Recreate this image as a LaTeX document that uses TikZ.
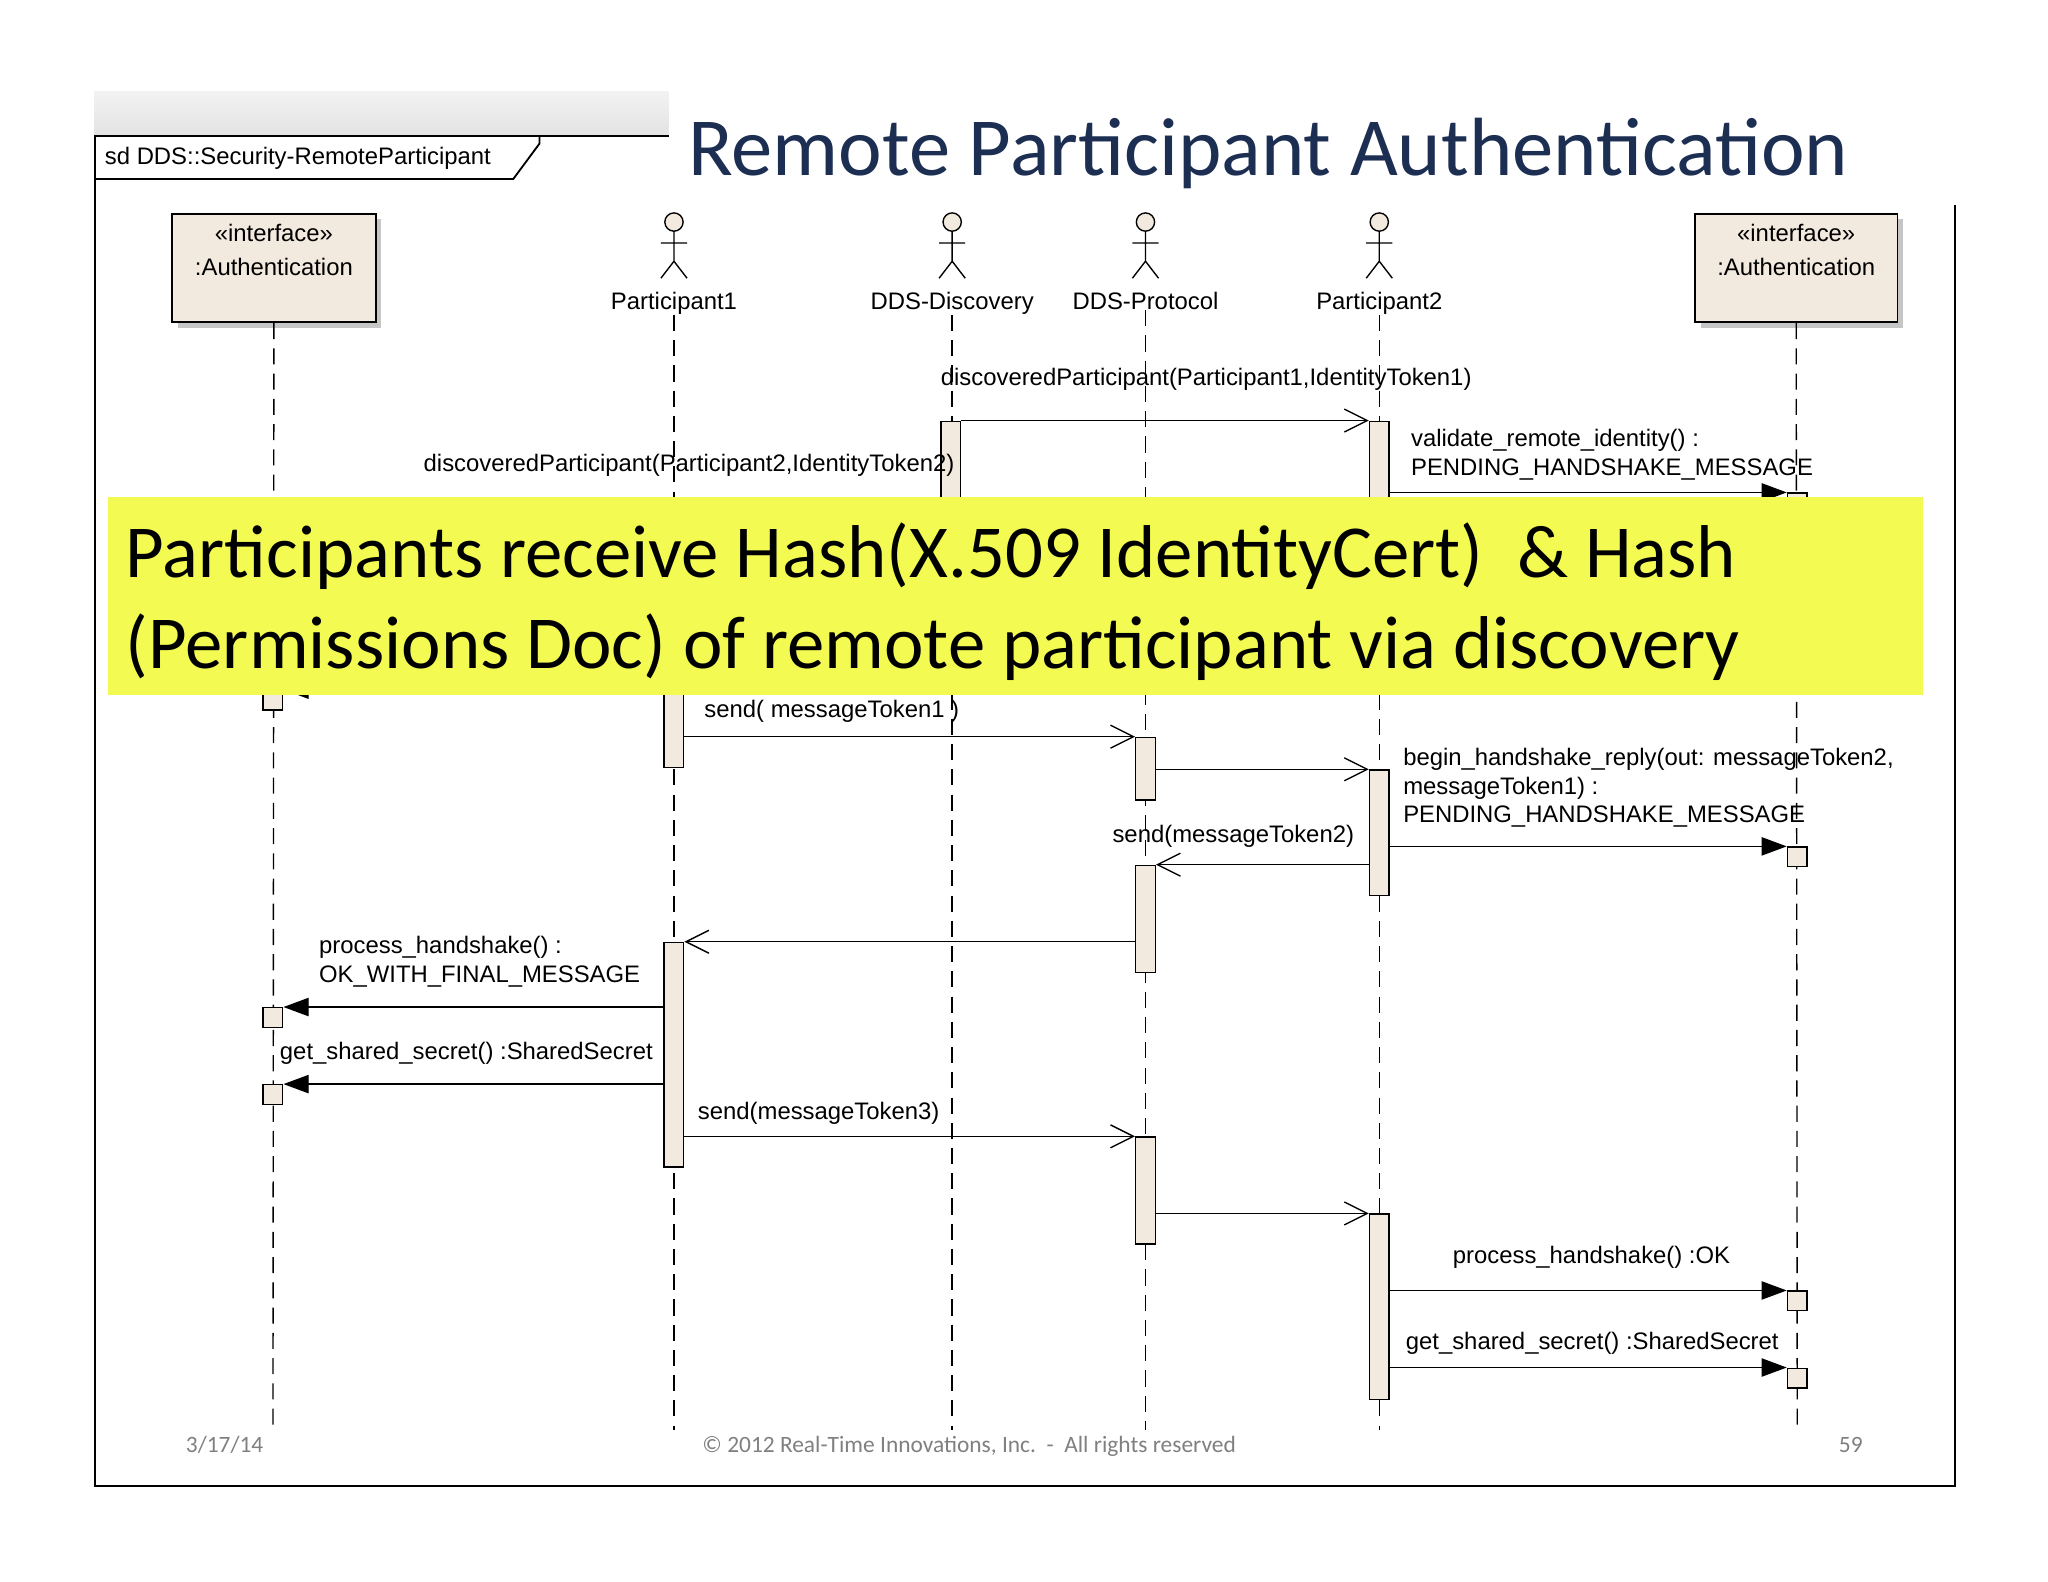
\documentclass[tikz,border=0pt]{standalone}
\usepackage{fontspec}
\setmainfont{Liberation Sans}
\newfontfamily\calfont{Carlito}
\usetikzlibrary{arrows.meta,calc}
\definecolor{beige}{HTML}{F3EADF}
\definecolor{navy}{HTML}{1C2E52}
\definecolor{yel}{HTML}{F3FA52}
\def\u{0.02cm}
\begin{document}
\begin{tikzpicture}[x=0.02cm,y=-0.02cm,
  txt/.style={font=\fontsize{10.4}{12}\selectfont,inner sep=0pt,anchor=base west},
  txtr/.style={txt,anchor=base east},
  life/.style={dash pattern=on 7pt off 4pt,line width=0.6pt},
  act/.style={draw,fill=beige,line width=0.6pt,minimum width=15*\u,inner sep=0pt,anchor=north},
  sq/.style={draw,fill=beige,line width=0.6pt,minimum width=15*\u,minimum height=15*\u,inner sep=0pt,anchor=north},
  openarr/.style={line width=0.6pt,-{Straight Barb[length=10pt,width=10pt]}},
  fillarr/.style={line width=0.6pt,-{Triangle[length=11pt,width=8pt]}},
  box/.style={draw,fill=beige,line width=0.8pt,minimum width=156*\u,minimum height=83*\u,anchor=north west,inner sep=0pt},
  actor/.style={line width=0.6pt}]
\useasboundingbox (0,0) rectangle (1568,1211);
\fill[white] (0,0) rectangle (1568,1211);
% gray band
\shade[top color=gray!10,bottom color=gray!22] (72,70) rectangle (512,104);
% frame
\draw[line width=0.9pt] (512,104) -- (73,104) -- (73,1138) -- (1497,1138) -- (1497,157);
\draw[line width=0.8pt] (73,137) -- (393,137) -- (413,110) -- (413,104);
\node[txt,font=\fontsize{10.4}{12}\selectfont] (sd) at (80,126) {sd DDS::Security-RemoteParticipant};
% title
\node[font=\calfont\fontsize{36}{42}\selectfont,text=navy,anchor=base] (title) at (971,134) {Remote Participant Authentication};
% boxes
\fill[gray!45] (136,168) rectangle (292,251);
\node[box] (authL) at (131,163) {};
\fill[gray!45] (1302,168) rectangle (1457,251);
\node[box,minimum width=155*\u] (authR) at (1297,163) {};
\foreach \b in {authL,authR}{
  \node[txt,anchor=base] at ($(\b.north)+(0,22)$) {«interface»};
  \node[txt,anchor=base] at ($(\b.north)+(0,48)$) {:Authentication};
}
% actors
\foreach \n/\x/\lab in {p1/516/Participant1,disc/729/DDS-Discovery,proto/877/DDS-Protocol,p2/1056/Participant2}{
  \draw[actor,fill=beige] (\x,170) circle (7);
  \draw[actor] (\x,177) -- (\x,200) (\x-10,186) -- (\x+10,186) (\x-10,213) -- (\x,200) -- (\x+10,213);
  \node[txt,anchor=base] (\n) at (\x,237) {\lab};
}
% lifelines
\draw[life] (authL.south) -- (209,1095);
\draw[life] (authR.south) -- (1376,1095);
\draw[life] (p1.south) -- (516,1095);
\draw[life] (disc.south) -- (729,1095);
\draw[life] (proto.south) -- (877,1095);
\draw[life] (p2.south) -- (1056,1095);
% activations
\node[act,minimum height=100*\u] (da) at (728,322) {};
\node[act,minimum height=100*\u] (p2a) at (1056,322) {};
\node[act,minimum height=68*\u] (p1a) at (516,519) {};
\node[sq] (sqL0) at (209,528) {};
\node[act,minimum height=48*\u] (pr1) at (877,564) {};
\node[act,minimum height=96*\u] (p2b) at (1056,589) {};
\node[sq] (sqR1) at (1376,648) {};
\node[act,minimum height=82*\u] (pr2) at (877,662) {};
\node[act,minimum height=172*\u] (p1b) at (516,721) {};
\node[sq] (sqL1) at (209,771) {};
\node[sq] (sqL2) at (209,830) {};
\node[act,minimum height=82*\u] (pr3) at (877,870) {};
\node[act,minimum height=142*\u] (p2c) at (1056,929) {};
\node[sq] (sqR2) at (1376,988) {};
\node[sq] (sqR3) at (1376,1047) {};
\node[sq] (sqR0) at (1376,377) {};
% messages
\draw[openarr] (da.north east) -- (p2a.north west);
\node[txt] (m1) at (720,295) {discoveredParticipant(Participant1,IdentityToken1)};
\node[txtr] (m2) at (731,361) {discoveredParticipant(Participant2,IdentityToken2)};
\node[txt] (m3) at (1080,342) {validate\_remote\_identity() :};
\node[txt] at (1080,364) {PENDING\_HANDSHAKE\_MESSAGE};
\draw[fillarr] (p2a.east |- sqR0.north) -- (sqR0.north west);
\draw[fillarr] (p1a.west |- sqL0.north) -- (sqL0.north east);
% yellow
\node[fill=yel,minimum width=1390*\u,minimum height=152*\u,anchor=north west,inner sep=0pt] (yb) at (82,380) {};
\node[font=\calfont\fontsize{32.6}{40}\selectfont,anchor=base west,inner sep=0pt] at (96,442) {Participants receive Hash(X.509 IdentityCert)\ \ \& Hash};
\node[font=\calfont\fontsize{32.6}{40}\selectfont,anchor=base west,inner sep=0pt] at (96,512) {(Permissions Doc) of remote participant via discovery};
% lower messages
\node[txt] at (539,549) {send( messageToken1 )};
\draw[openarr] (p1a.east |- pr1.north) -- (pr1.north west);
\draw[openarr] (pr1.east |- p2b.north) -- (p2b.north west);
\node[txt] at (1074,586) {begin\_handshake\_reply(out: messageToken2,};
\node[txt] at (1074,608) {messageToken1) :};
\node[txt] at (1074,630) {PENDING\_HANDSHAKE\_MESSAGE};
\draw[fillarr] (p2b.east |- sqR1.north) -- (sqR1.north west);
\node[txtr] at (1037,645) {send(messageToken2)};
\draw[openarr] (p2b.west |- pr2.north) -- (pr2.north east);
\draw[openarr] (pr2.west |- p1b.north) -- (p1b.north east);
\node[txt] at (244,730) {process\_handshake() :};
\node[txt] at (244,752) {OK\_WITH\_FINAL\_MESSAGE};
\draw[fillarr] (p1b.west |- sqL1.north) -- (sqL1.north east);
\node[txt] at (214,811) {get\_shared\_secret() :SharedSecret};
\draw[fillarr] (p1b.west |- sqL2.north) -- (sqL2.north east);
\node[txt] at (534,857) {send(messageToken3)};
\draw[openarr] (p1b.east |- pr3.north) -- (pr3.north west);
\draw[openarr] (pr3.east |- p2c.north) -- (p2c.north west);
\node[txt] at (1112,967) {process\_handshake() :OK};
\draw[fillarr] (p2c.east |- sqR2.north) -- (sqR2.north west);
\node[txt] at (1076,1033) {get\_shared\_secret() :SharedSecret};
\draw[fillarr] (p2c.east |- sqR3.north) -- (sqR3.north west);
% footer
\node[font=\calfont\fontsize{10.2}{12}\selectfont,text=gray,anchor=base] at (172,1112) {3/17/14};
\node[font=\calfont\fontsize{10.2}{12}\selectfont,text=gray,anchor=base] at (742,1112) {© 2012 Real-Time Innovations, Inc.\ \ -\ \ All rights reserved};
\node[font=\calfont\fontsize{10.2}{12}\selectfont,text=gray,anchor=base] at (1417,1112) {59};
\end{tikzpicture}
\end{document}
